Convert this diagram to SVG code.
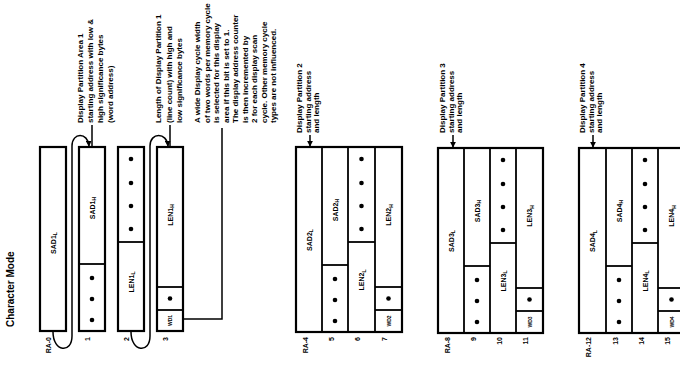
<svg xmlns="http://www.w3.org/2000/svg" width="680" height="369" viewBox="0 0 680 369">
<defs>
<style>
.bg{fill:#fff}
.box{fill:none;stroke:#000;stroke-width:2.2}
.div{fill:none;stroke:#000;stroke-width:1.8}
.ln{fill:none;stroke:#000;stroke-width:1.5}
.t{font-family:"Liberation Sans",Arial,sans-serif;font-weight:bold;fill:#000}
.note{font-size:8px}
.lbl{font-size:7px}
.sub{font-size:5px}
.ra{font-size:7px}
.title{font-size:10px}
.dot{fill:#000}
</style>
<marker id="ah" viewBox="0 0 8 8" refX="7" refY="4" markerWidth="6" markerHeight="6" orient="auto" markerUnits="userSpaceOnUse">
<path d="M0,0 L8,4 L0,8 z" fill="#000"/>
</marker>
</defs>
<rect class="bg" x="0" y="0" width="680" height="369"/>

<text id="title" class="t title" transform="translate(14,327) rotate(-90)">Character Mode</text>

<!-- Annotations -->
<g id="note1">
<text class="t note" transform="translate(83,123) rotate(-90)"><tspan x="0" y="0">Display Partition Area 1</tspan><tspan x="0" y="10">starting address with low &amp;</tspan><tspan x="0" y="20">high significance bytes</tspan><tspan x="0" y="30">(word address)</tspan></text>
</g>
<g id="note2">
<text class="t note" transform="translate(161,123) rotate(-90)"><tspan x="0" y="0">Length of Display Partition 1</tspan><tspan x="0" y="10.5">(line count) with high and</tspan><tspan x="0" y="21">low significance bytes</tspan></text>
</g>
<g id="note3">
<text class="t note" transform="translate(200,123) rotate(-90)"><tspan x="0" y="0">A wide Display cycle width</tspan><tspan x="0" y="9.5">of two words per memory cycle</tspan><tspan x="0" y="19">is selected for this display</tspan><tspan x="0" y="28.5">area if this bit is set to 1.</tspan><tspan x="0" y="38">The display address counter</tspan><tspan x="0" y="47.5">is then incremented by</tspan><tspan x="0" y="57">2 for each display scan</tspan><tspan x="0" y="66.5">cycle. Other memory cycle</tspan><tspan x="0" y="76">types are not influenced.</tspan></text>
</g>
<g id="note4">
<text class="t note" transform="translate(302,133) rotate(-90)"><tspan x="0" y="0">Display Partition 2</tspan><tspan x="0" y="8.5">starting address</tspan><tspan x="0" y="17">and length</tspan></text>
</g>
<g id="note5">
<text class="t note" transform="translate(445,133) rotate(-90)"><tspan x="0" y="0">Display Partition 3</tspan><tspan x="0" y="8.5">starting address</tspan><tspan x="0" y="17">and length</tspan></text>
</g>
<g id="note6">
<text class="t note" transform="translate(585,133) rotate(-90)"><tspan x="0" y="0">Display Partition 4</tspan><tspan x="0" y="8.5">starting address</tspan><tspan x="0" y="17">and length</tspan></text>
</g>

<!-- Group 1 -->
<g id="ra0">
<rect class="box" x="40" y="147" width="26" height="184"/>
<text class="t lbl" text-anchor="middle" transform="translate(55.5,243) rotate(-90)">SAD1<tspan class="sub" dy="1.5">L</tspan></text>
</g>
<g id="ra1">
<rect class="box" x="79" y="147" width="26" height="184"/>
<line class="div" x1="79" y1="264" x2="105" y2="264"/>
<text class="t lbl" text-anchor="middle" transform="translate(94.5,208) rotate(-90)">SAD1<tspan class="sub" dy="1.5">H</tspan></text>
<circle class="dot" cx="92" cy="278" r="2.3"/><circle class="dot" cx="92" cy="299" r="2.3"/><circle class="dot" cx="92" cy="320" r="2.3"/>
</g>
<g id="ra2">
<rect class="box" x="118" y="147" width="26" height="184"/>
<line class="div" x1="118" y1="242" x2="144" y2="242"/>
<circle class="dot" cx="131" cy="159" r="2.3"/><circle class="dot" cx="131" cy="183" r="2.3"/><circle class="dot" cx="131" cy="206" r="2.3"/><circle class="dot" cx="131" cy="229" r="2.3"/>
<text class="t lbl" text-anchor="middle" transform="translate(133.5,282) rotate(-90)">LEN1<tspan class="sub" dy="1.5">L</tspan></text>
</g>
<g id="ra3">
<rect class="box" x="157" y="147" width="26" height="184"/>
<line class="div" x1="157" y1="287" x2="183" y2="287"/>
<line class="div" x1="157" y1="310" x2="183" y2="310"/>
<text class="t lbl" text-anchor="middle" transform="translate(172.5,215) rotate(-90)">LEN1<tspan class="sub" dy="1.5">H</tspan></text>
<circle class="dot" cx="170" cy="298.5" r="2.3"/>
<text class="t sub" text-anchor="middle" transform="translate(172,320.5) rotate(-90)">WD1</text>
</g>

<!-- Group 2 -->
<g id="ra4-7">
<rect class="box" x="296" y="147" width="106" height="185"/>
<line class="div" x1="322" y1="147" x2="322" y2="332"/>
<line class="div" x1="348" y1="147" x2="348" y2="332"/>
<line class="div" x1="375" y1="147" x2="375" y2="332"/>
<text class="t lbl" text-anchor="middle" transform="translate(311.5,240) rotate(-90)">SAD2<tspan class="sub" dy="1.5">L</tspan></text>
<line class="div" x1="322" y1="265" x2="348" y2="265"/>
<text class="t lbl" text-anchor="middle" transform="translate(337.5,210) rotate(-90)">SAD2<tspan class="sub" dy="1.5">H</tspan></text>
<circle class="dot" cx="335" cy="279" r="2.3"/><circle class="dot" cx="335" cy="300" r="2.3"/><circle class="dot" cx="335" cy="321" r="2.3"/>
<line class="div" x1="348" y1="242" x2="375" y2="242"/>
<circle class="dot" cx="361.5" cy="159" r="2.3"/><circle class="dot" cx="361.5" cy="183" r="2.3"/><circle class="dot" cx="361.5" cy="206" r="2.3"/><circle class="dot" cx="361.5" cy="229" r="2.3"/>
<text class="t lbl" text-anchor="middle" transform="translate(364,280) rotate(-90)">LEN2<tspan class="sub" dy="1.5">L</tspan></text>
<line class="div" x1="375" y1="287" x2="402" y2="287"/>
<line class="div" x1="375" y1="310" x2="402" y2="310"/>
<text class="t lbl" text-anchor="middle" transform="translate(391,215) rotate(-90)">LEN2<tspan class="sub" dy="1.5">H</tspan></text>
<circle class="dot" cx="388.5" cy="298.5" r="2.3"/>
<text class="t sub" text-anchor="middle" transform="translate(390.5,321) rotate(-90)">WD2</text>
</g>

<!-- Group 3 -->
<g id="ra8-11">
<rect class="box" x="438" y="148" width="105" height="185"/>
<line class="div" x1="464" y1="148" x2="464" y2="333"/>
<line class="div" x1="490" y1="148" x2="490" y2="333"/>
<line class="div" x1="516" y1="148" x2="516" y2="333"/>
<text class="t lbl" text-anchor="middle" transform="translate(453.5,241) rotate(-90)">SAD3<tspan class="sub" dy="1.5">L</tspan></text>
<line class="div" x1="464" y1="266" x2="490" y2="266"/>
<text class="t lbl" text-anchor="middle" transform="translate(479.5,211) rotate(-90)">SAD3<tspan class="sub" dy="1.5">H</tspan></text>
<circle class="dot" cx="477" cy="280" r="2.3"/><circle class="dot" cx="477" cy="301" r="2.3"/><circle class="dot" cx="477" cy="322" r="2.3"/>
<line class="div" x1="490" y1="243" x2="516" y2="243"/>
<circle class="dot" cx="503" cy="160" r="2.3"/><circle class="dot" cx="503" cy="184" r="2.3"/><circle class="dot" cx="503" cy="207" r="2.3"/><circle class="dot" cx="503" cy="230" r="2.3"/>
<text class="t lbl" text-anchor="middle" transform="translate(505.5,281) rotate(-90)">LEN3<tspan class="sub" dy="1.5">L</tspan></text>
<line class="div" x1="516" y1="288" x2="543" y2="288"/>
<line class="div" x1="516" y1="311" x2="543" y2="311"/>
<text class="t lbl" text-anchor="middle" transform="translate(532,216) rotate(-90)">LEN3<tspan class="sub" dy="1.5">H</tspan></text>
<circle class="dot" cx="529.5" cy="299.5" r="2.3"/>
<text class="t sub" text-anchor="middle" transform="translate(531.5,322) rotate(-90)">WD3</text>
</g>

<!-- Group 4 -->
<g id="ra12-15">
<rect class="box" x="579" y="148" width="106" height="185"/>
<line class="div" x1="606" y1="148" x2="606" y2="333"/>
<line class="div" x1="632" y1="148" x2="632" y2="333"/>
<line class="div" x1="658" y1="148" x2="658" y2="333"/>
<text class="t lbl" text-anchor="middle" transform="translate(595,241) rotate(-90)">SAD4<tspan class="sub" dy="1.5">L</tspan></text>
<line class="div" x1="606" y1="266" x2="632" y2="266"/>
<text class="t lbl" text-anchor="middle" transform="translate(621.5,211) rotate(-90)">SAD4<tspan class="sub" dy="1.5">H</tspan></text>
<circle class="dot" cx="619" cy="280" r="2.3"/><circle class="dot" cx="619" cy="301" r="2.3"/><circle class="dot" cx="619" cy="322" r="2.3"/>
<line class="div" x1="632" y1="243" x2="658" y2="243"/>
<circle class="dot" cx="645" cy="160" r="2.3"/><circle class="dot" cx="645" cy="184" r="2.3"/><circle class="dot" cx="645" cy="207" r="2.3"/><circle class="dot" cx="645" cy="230" r="2.3"/>
<text class="t lbl" text-anchor="middle" transform="translate(647.5,281) rotate(-90)">LEN4<tspan class="sub" dy="1.5">L</tspan></text>
<line class="div" x1="658" y1="288" x2="685" y2="288"/>
<line class="div" x1="658" y1="311" x2="685" y2="311"/>
<text class="t lbl" text-anchor="middle" transform="translate(674,216) rotate(-90)">LEN4<tspan class="sub" dy="1.5">H</tspan></text>
<circle class="dot" cx="671.5" cy="299.5" r="2.3"/>
<text class="t sub" text-anchor="middle" transform="translate(673.5,322) rotate(-90)">WD4</text>
</g>

<!-- Row labels -->
<g id="rowlabels" class="t ra" text-anchor="end">
<text transform="translate(51,337) rotate(-90)">RA-0</text>
<text transform="translate(90,337) rotate(-90)">1</text>
<text transform="translate(129,337) rotate(-90)">2</text>
<text transform="translate(168,337) rotate(-90)">3</text>
<text transform="translate(308,337) rotate(-90)">RA-4</text>
<text transform="translate(334,337) rotate(-90)">5</text>
<text transform="translate(360,337) rotate(-90)">6</text>
<text transform="translate(387,337) rotate(-90)">7</text>
<text transform="translate(450,337) rotate(-90)">RA-8</text>
<text transform="translate(476,337) rotate(-90)">9</text>
<text transform="translate(502,337) rotate(-90)">10</text>
<text transform="translate(528,337) rotate(-90)">11</text>
<text transform="translate(591,337) rotate(-90)">RA-12</text>
<text transform="translate(618,337) rotate(-90)">13</text>
<text transform="translate(644,337) rotate(-90)">14</text>
<text transform="translate(670,337) rotate(-90)">15</text>
</g>

<!-- Connectors -->
<g id="connectors">
<path class="ln" d="M53,332 C53,352 72,354 72,336 L72,146 C72,132 88,132 89,146" marker-end="url(#ah)"/>
<path class="ln" d="M131,332 C131,352 150,354 150,336 L150,146 C150,132 167,132 168,146" marker-end="url(#ah)"/>
<line class="ln" x1="92" y1="125" x2="92" y2="146"/>
<line class="ln" x1="170" y1="125" x2="170" y2="146"/>
<polyline class="ln" points="184,319 222,319 222,128"/>
<line class="ln" x1="310" y1="135" x2="310" y2="146" marker-end="url(#ah)"/>
<line class="ln" x1="453" y1="135" x2="453" y2="147" marker-end="url(#ah)"/>
<line class="ln" x1="593" y1="135" x2="593" y2="147" marker-end="url(#ah)"/>
</g>
</svg>
